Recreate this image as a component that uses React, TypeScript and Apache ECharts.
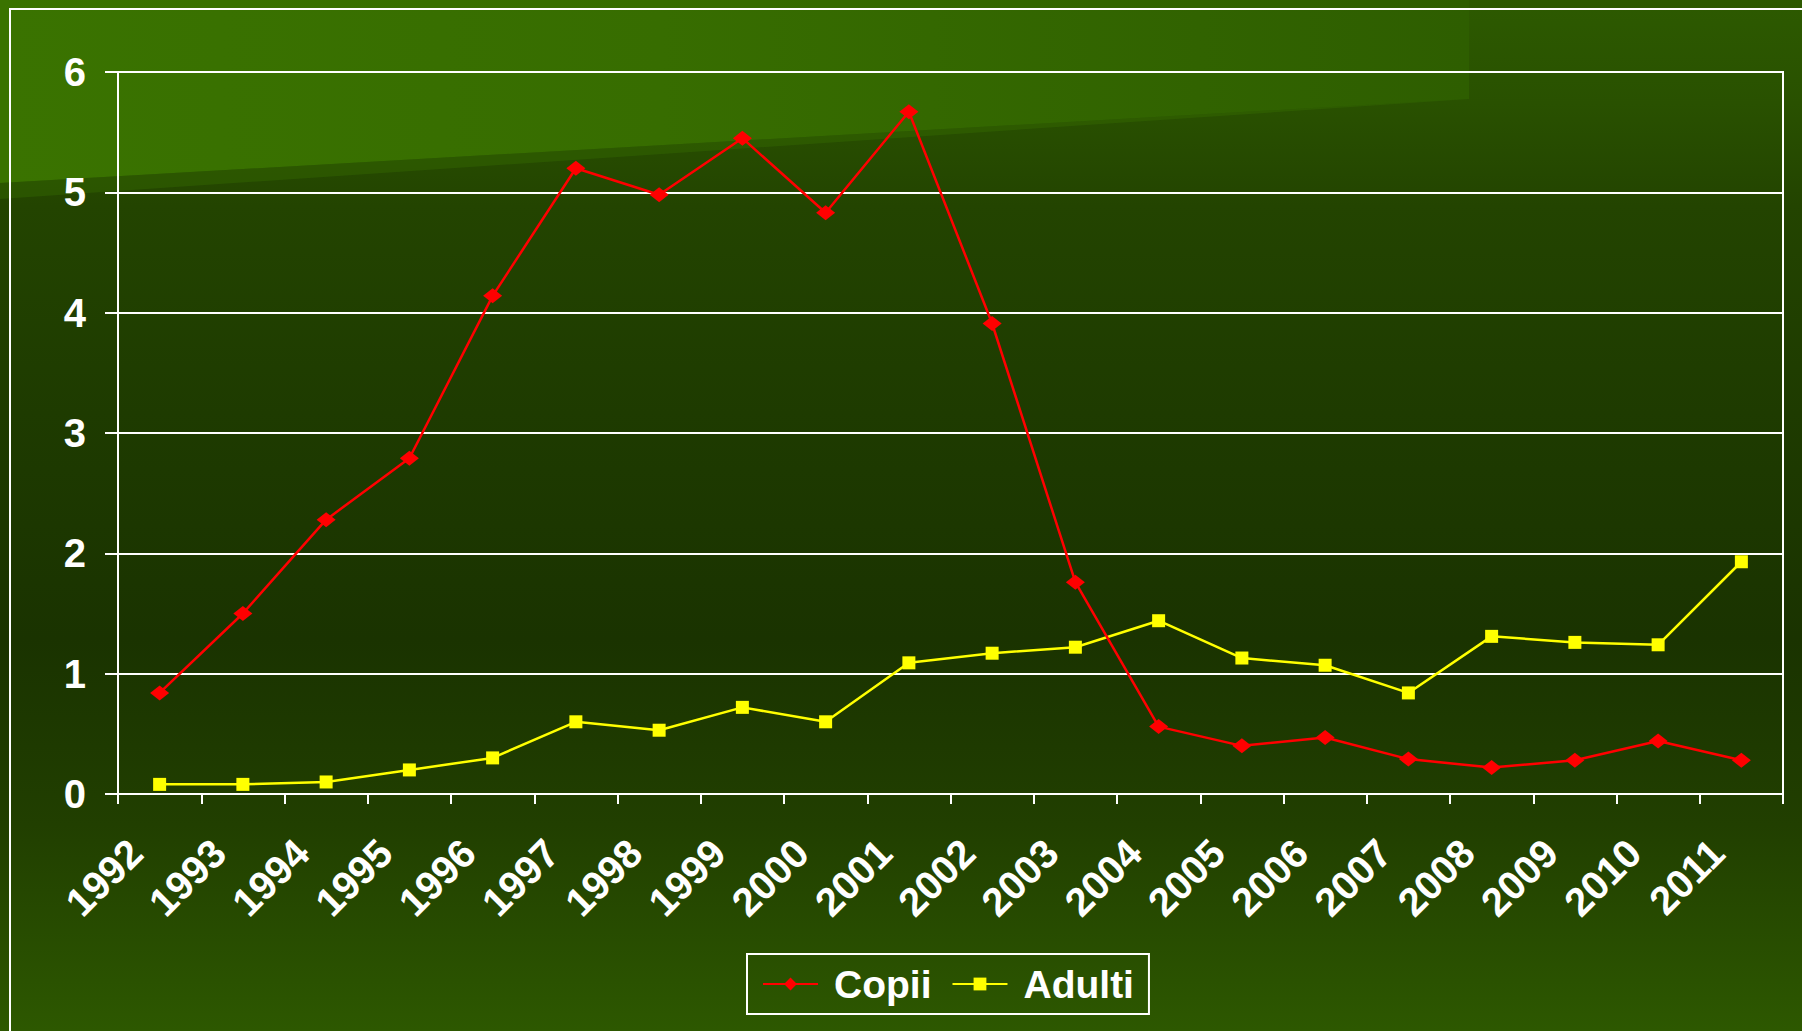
import React, { useEffect, useRef } from "react";
import * as echarts from "echarts";

const years = ["1992","1993","1994","1995","1996","1997","1998","1999","2000","2001","2002","2003","2004","2005","2006","2007","2008","2009","2010","2011"];
const copii = [0.84, 1.5, 2.28, 2.79, 4.14, 5.2, 4.98, 5.45, 4.83, 5.67, 3.91, 1.76, 0.56, 0.4, 0.47, 0.29, 0.22, 0.28, 0.44, 0.28];
const adulti = [0.08, 0.08, 0.1, 0.2, 0.3, 0.6, 0.53, 0.72, 0.6, 1.09, 1.17, 1.22, 1.44, 1.13, 1.07, 0.84, 1.31, 1.26, 1.24, 1.93];
const seriesNames = ["Copii", "Adulti"];
const yMin = 0;
const yMax = 6;
const yStep = 1;

const FONT = "'Liberation Sans', Arial, Helvetica, sans-serif";

export default function App() {
  const ref = useRef<HTMLDivElement>(null);
  useEffect(() => {
    if (!ref.current) return;
    const chart = echarts.init(ref.current, null, { renderer: "svg" });
    chart.setOption({
      animation: false,
      backgroundColor: "#1e3b00",
      graphic: [
        {
          type: "rect",
          z: -100,
          silent: true,
          shape: { x: 0, y: 0, width: 1802, height: 1031 },
          style: {
            fill: new echarts.graphic.LinearGradient(0, 0, 0, 1, [
              { offset: 0, color: "#2d5a00" },
              { offset: 0.1, color: "#295100" },
              { offset: 0.2, color: "#234400" },
              { offset: 0.4, color: "#1e3b00" },
              { offset: 0.62, color: "#1a3300" },
              { offset: 0.8, color: "#213f00" },
              { offset: 1, color: "#2d5800" },
            ]),
          },
        },
        {
          type: "polygon",
          z: -90,
          silent: true,
          shape: { points: [[0, 0], [1469, 0], [1469, 99], [0, 183]] },
          style: {
            fill: new echarts.graphic.LinearGradient(0, 0, 1, 0, [
              { offset: 0, color: "#3a7300" },
              { offset: 0.45, color: "#376d00" },
              { offset: 1, color: "#2e5e00" },
            ]),
          },
        },
        {
          type: "polygon",
          z: -90,
          silent: true,
          shape: { points: [[0, 183], [1469, 99], [0, 199]] },
          style: { fill: "rgba(58,114,0,0.35)" },
        },
        {
          type: "rect",
          z: -80,
          silent: true,
          shape: { x: 10, y: 9, width: 1900, height: 1100 },
          style: { fill: "none", stroke: "#ffffff", lineWidth: 2 },
        },
      ],
      grid: {
        left: 118,
        right: 19,
        top: 72,
        bottom: 237,
        show: true,
        borderColor: "#ffffff",
        borderWidth: 2,
        backgroundColor: "transparent",
      },
      legend: {
        data: seriesNames,
        left: 747,
        top: 954,
        orient: "horizontal",
        padding: [8, 15, 8, 15],
        borderColor: "#ffffff",
        borderWidth: 2,
        itemWidth: 55,
        itemHeight: 16,
        itemGap: 20,
        textStyle: {
          color: "#ffffff",
          fontSize: 39,
          fontWeight: "bold",
          fontFamily: FONT,
          lineHeight: 44,
          padding: [0, 0, 0, 11],
        },
      },
      xAxis: {
        type: "category",
        data: years,
        boundaryGap: true,
        axisLine: { show: true, lineStyle: { color: "#ffffff", width: 2 } },
        axisTick: { show: true, length: 10, interval: 0, lineStyle: { color: "#ffffff", width: 2 } },
        axisLabel: {
          interval: 0,
          rotate: 45,
          margin: 28,
          padding: [0, 34, 0, 0],
          color: "#ffffff",
          fontSize: 40,
          fontWeight: "bold",
          fontFamily: FONT,
        },
        splitLine: { show: false },
      },
      yAxis: {
        type: "value",
        min: yMin,
        max: yMax,
        interval: yStep,
        axisLine: { show: true, lineStyle: { color: "#ffffff", width: 2 } },
        axisTick: { show: true, length: 13, lineStyle: { color: "#ffffff", width: 2 } },
        axisLabel: {
          margin: 32,
          color: "#ffffff",
          fontSize: 40,
          fontWeight: "bold",
          fontFamily: FONT,
        },
        splitLine: { show: true, lineStyle: { color: "#ffffff", width: 2 } },
      },
      series: [
        {
          name: seriesNames[0],
          type: "line",
          data: copii,
          symbol: "diamond",
          symbolSize: [19, 15],
          lineStyle: { color: "#ff0000", width: 2.5 },
          itemStyle: { color: "#ff0000" },
          z: 3,
        },
        {
          name: seriesNames[1],
          type: "line",
          data: adulti,
          symbol: "rect",
          symbolSize: 13,
          lineStyle: { color: "#ffff00", width: 2.5 },
          itemStyle: { color: "#ffff00" },
          z: 2,
        },
      ],
    });
    return () => chart.dispose();
  }, []);
  return (
    <div
      ref={ref}
      style={{ position: "fixed", left: 0, top: 0, width: "1802px", height: "1031px" }}
    />
  );
}
